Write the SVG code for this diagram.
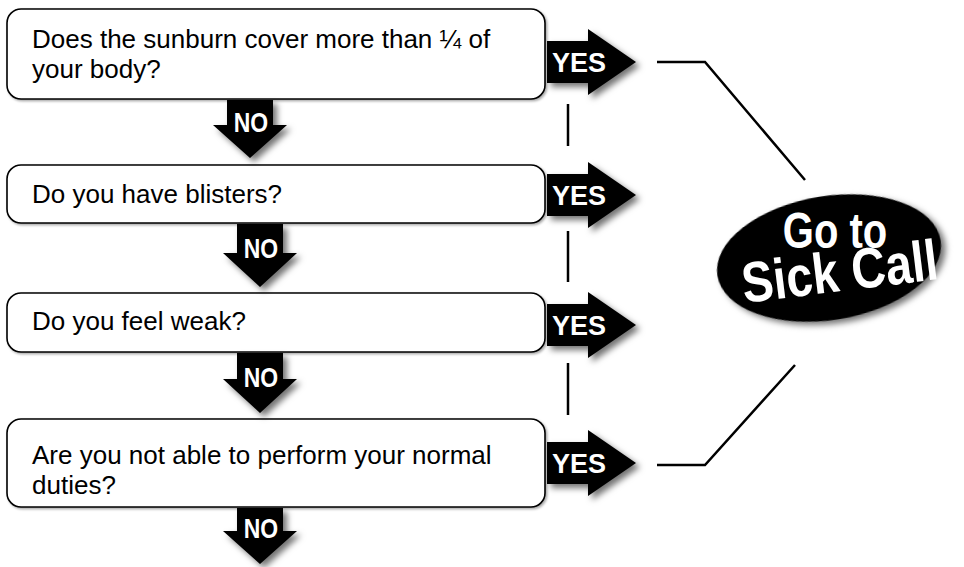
<svg xmlns="http://www.w3.org/2000/svg" width="964" height="567" viewBox="0 0 964 567">
<defs>
<style>
.box{fill:#fff;stroke:#000;stroke-width:1.6}
.q{font-family:"Liberation Sans",Arial,sans-serif;font-size:26px;fill:#000}
.lbl{font-family:"Liberation Sans",Arial,sans-serif;font-weight:bold;fill:#fff}
.ln{stroke:#000;stroke-width:2.5;fill:none}
.arr{fill:#000}
</style>
<filter id="sh" x="-30%" y="-30%" width="170%" height="170%">
<feDropShadow dx="4" dy="4" stdDeviation="3" flood-color="#000" flood-opacity="0.55"/>
</filter>
<filter id="bsh" x="-5%" y="-10%" width="110%" height="130%">
<feDropShadow dx="1.5" dy="1.5" stdDeviation="1" flood-color="#000" flood-opacity="0.35"/>
</filter>
<path id="yes" d="M0,-21 H41 V-33 L89,0 L41,33 V21 H0 Z"/>
</defs>
<rect width="964" height="567" fill="#fff"/>

<g id="connectors">
<polyline class="ln" points="657,62 705,62 805,180"/>
<polyline class="ln" points="657,465 705,465 795,365"/>
<line class="ln" x1="568" y1="104" x2="568" y2="146"/>
<line class="ln" x1="568" y1="231" x2="568" y2="282"/>
<line class="ln" x1="568" y1="363" x2="568" y2="415"/>
</g>

<g id="q1">
<rect class="box" x="7" y="9" width="538" height="90" rx="14" filter="url(#bsh)"/>
<text class="q" x="32" y="48">Does the sunburn cover more than ¼ of</text>
<text class="q" x="32" y="78">your body?</text>
</g>
<g id="q2">
<rect class="box" x="7" y="165" width="538" height="58" rx="14" filter="url(#bsh)"/>
<text class="q" x="32" y="203">Do you have blisters?</text>
</g>
<g id="q3">
<rect class="box" x="7" y="293" width="538" height="59" rx="14" filter="url(#bsh)"/>
<text class="q" x="32" y="330">Do you feel weak?</text>
</g>
<g id="q4">
<rect class="box" x="7" y="419" width="538" height="88" rx="14" filter="url(#bsh)"/>
<text class="q" x="32" y="464">Are you not able to perform your normal</text>
<text class="q" x="32" y="494">duties?</text>
</g>

<g id="yes1" transform="translate(547,62)">
<use href="#yes" class="arr" filter="url(#sh)"/>
<text class="lbl" x="5" y="10" font-size="27">YES</text>
</g>
<g id="yes2" transform="translate(547,195)">
<use href="#yes" class="arr" filter="url(#sh)"/>
<text class="lbl" x="5" y="10" font-size="27">YES</text>
</g>
<g id="yes3" transform="translate(547,325)">
<use href="#yes" class="arr" filter="url(#sh)"/>
<text class="lbl" x="5" y="10" font-size="27">YES</text>
</g>
<g id="yes4" transform="translate(547,463)">
<use href="#yes" class="arr" filter="url(#sh)"/>
<text class="lbl" x="5" y="10" font-size="27">YES</text>
</g>

<g id="no1">
<path class="arr" filter="url(#sh)" d="M227,100 H273 V125 H287 L250,158 L213,125 H227 Z"/>
<text class="lbl" font-size="28" text-anchor="middle" transform="translate(251,132) scale(0.82,1)">NO</text>
</g>
<g id="no2">
<path class="arr" filter="url(#sh)" d="M237,224 H283 V253 H297 L260,287 L223,253 H237 Z"/>
<text class="lbl" font-size="28" text-anchor="middle" transform="translate(261,258) scale(0.82,1)">NO</text>
</g>
<g id="no3">
<path class="arr" filter="url(#sh)" d="M237,353 H283 V379 H297 L260,413 L223,379 H237 Z"/>
<text class="lbl" font-size="28" text-anchor="middle" transform="translate(261,387) scale(0.82,1)">NO</text>
</g>
<g id="no4">
<path class="arr" filter="url(#sh)" d="M237,508 H283 V531 H297 L260,564 L223,531 H237 Z"/>
<text class="lbl" font-size="28" text-anchor="middle" transform="translate(261,538) scale(0.82,1)">NO</text>
</g>

<g id="sickcall">
<ellipse cx="829" cy="258" rx="113" ry="62" transform="rotate(-9 829 258)" fill="#000" filter="url(#sh)"/>
<text class="lbl" font-size="50" text-anchor="middle" transform="translate(835,248) scale(0.8,1)">Go to</text>
<text class="lbl" font-size="57" text-anchor="middle" transform="translate(842,291) rotate(-7) scale(0.83,1)">Sick Call</text>
</g>
</svg>
